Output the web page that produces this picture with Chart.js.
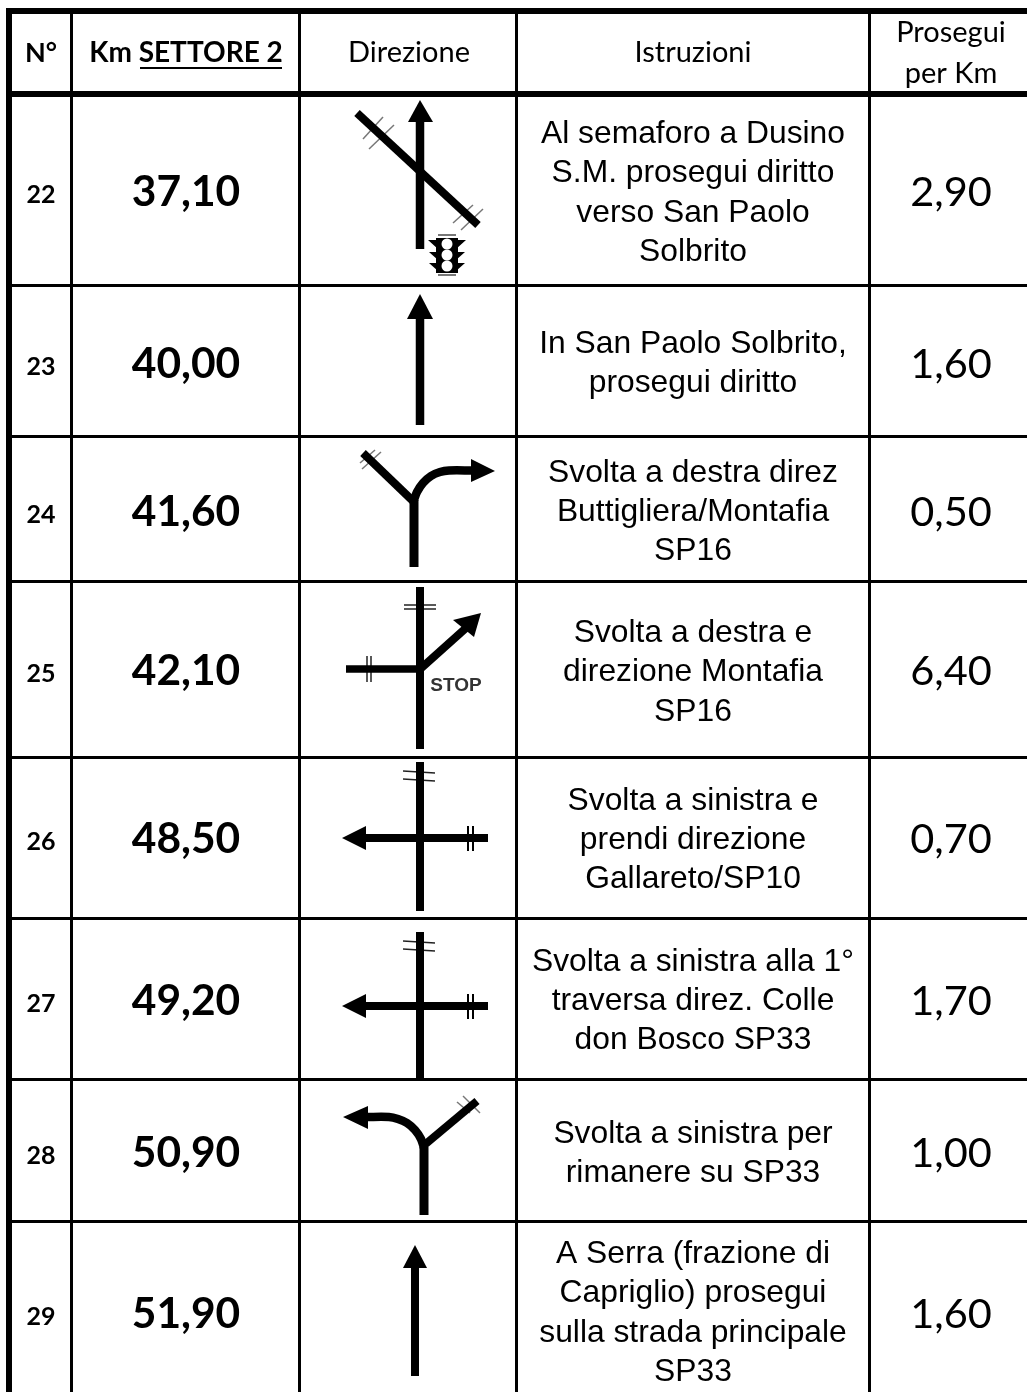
<!DOCTYPE html>
<html>
<head>
<meta charset="utf-8">
<title>Settore 2</title>
<script src="https://cdn.jsdelivr.net/npm/chart.js@4"></script>
<style>
  html, body { margin: 0; padding: 0; background: #fff; }
  canvas { display: block; }
</style>
</head>
<body>
<canvas id="myChart" width="1027" height="1392"></canvas>
<script>
// table content
var headers = ["N°", "Km SETTORE 2", "Direzione", "Istruzioni"];
var lastHeader = ["Prosegui", "per Km"];
var numbers = ["22", "23", "24", "25", "26", "27", "28", "29"];
var kmValues = ["37,10", "40,00", "41,60", "42,10", "48,50", "49,20", "50,90", "51,90"];
var nextKm = ["2,90", "1,60", "0,50", "6,40", "0,70", "1,70", "1,00", "1,60"];
var instructions = [
    ["Al semaforo a Dusino", "S.M. prosegui diritto", "verso San Paolo", "Solbrito"],
    ["In San Paolo Solbrito,", "prosegui diritto"],
    ["Svolta a destra direz", "Buttigliera/Montafia", "SP16"],
    ["Svolta a destra e", "direzione Montafia", "SP16"],
    ["Svolta a sinistra e", "prendi direzione", "Gallareto/SP10"],
    ["Svolta a sinistra alla 1°", "traversa direz. Colle", "don Bosco SP33"],
    ["Svolta a sinistra per", "rimanere su SP33"],
    ["A Serra (frazione di", "Capriglio) prosegui", "sulla strada principale", "SP33"]
];

// table layout, in picture pixels
var colRules = [[9, 6], [71.5, 3], [299.5, 3], [516.5, 3], [869.5, 3]];
var rowRules = [[11, 6], [94, 6], [285.5, 3], [436.5, 3], [581.5, 3], [757.5, 3], [918.5, 3], [1079.5, 3], [1221.5, 3]];
var colCenters = [41, 186, 409, 693, 951];
var rowMiddles = [191, 363, 511, 670, 838, 1000, 1152, 1313];
var lineMiddles = [
    [132, 171, 211, 250],
    [342, 381],
    [471, 510, 549],
    [631, 670, 710],
    [799, 838, 877],
    [960, 999, 1038],
    [1132, 1171],
    [1252, 1291, 1331, 1370]
];

// road signs: [width, colour, tension, points]
var K = '#000', G = '#777';
var signLines = [
    // 22
    [8.5, K, 0, [[420, 118], [420, 249]]],
    [8, K, 0, [[357, 113], [478, 225]]],
    [1.5, G, 0, [[363, 139], [383, 117]]],
    [1.5, G, 0, [[369, 149], [394, 125]]],
    [1.5, G, 0, [[453, 223], [473, 205]]],
    [1.5, G, 0, [[461, 230], [483, 209]]],
    [22, K, 0, [[447, 238], [447, 273]]],
    [2, G, 0, [[438, 235], [456, 235]]],
    [2, G, 0, [[438, 275], [456, 275]]],
    // 23
    [8.5, K, 0, [[420, 317], [420, 425]]],
    // 24
    [9, K, 0, [[414, 567], [414, 500]]],
    [8, K, 0, [[414, 502], [363, 453]]],
    [8.5, K, 0.3, [[414, 500], [417, 492], [423, 483], [431, 476], [440, 472], [449, 470.5], [472, 470.5]]],
    [1.5, G, 0, [[360, 463], [375, 450]]],
    [1.5, G, 0, [[362, 469], [381, 452]]],
    // 25
    [8, K, 0, [[420, 587], [420, 749]]],
    [7.5, K, 0, [[346, 669], [420, 669]]],
    [8, K, 0, [[418, 671], [466, 628]]],
    [1.5, '#222', 0, [[367, 656], [367, 682]]],
    [1.5, '#222', 0, [[371, 656], [371, 682]]],
    [1.5, '#222', 0, [[404, 605], [436, 605]]],
    [1.5, '#222', 0, [[404, 609], [436, 609]]],
    // 26
    [8, K, 0, [[420, 762], [420, 911]]],
    [8, K, 0, [[364, 838], [488, 838]]],
    [2, K, 0, [[468, 826], [468, 851]]],
    [2, K, 0, [[473, 826], [473, 851]]],
    [1.5, '#222', 0, [[403, 771], [435, 773]]],
    [1.5, '#222', 0, [[403, 779], [435, 781]]],
    // 27
    [8, K, 0, [[420, 932], [420, 1078]]],
    [8, K, 0, [[364, 1006], [488, 1006]]],
    [2, K, 0, [[468, 994], [468, 1019]]],
    [2, K, 0, [[473, 994], [473, 1019]]],
    [1.5, '#222', 0, [[403, 941], [435, 943]]],
    [1.5, '#222', 0, [[403, 949], [435, 951]]],
    // 28
    [9, K, 0, [[424, 1215], [424, 1147]]],
    [8, K, 0, [[422, 1147], [477, 1101]]],
    [8.5, K, 0.3, [[424, 1148], [421, 1139], [415, 1130], [407, 1123], [398, 1119], [389, 1117], [366, 1117]]],
    [1.5, G, 0, [[457, 1102], [470, 1113]]],
    [1.5, G, 0, [[463, 1096], [480, 1113]]],
    // 29
    [8, K, 0, [[415, 1266], [415, 1376]]]
];
var signHeads = [
    [[420, 100], [408, 122], [433, 122]],
    [[420, 294], [407, 319], [433, 319]],
    [[495, 471], [471, 459], [471, 482]],
    [[481, 613], [453, 620], [474, 637]],
    [[342, 838], [366, 826], [366, 850]],
    [[342, 1006], [366, 994], [366, 1018]],
    [[343, 1117], [368, 1106], [368, 1129]],
    [[415, 1245], [403, 1268], [427, 1268]],
    // traffic light visors
    [[428, 240], [438, 240], [438, 249]],
    [[429, 252], [438, 252], [438, 260]],
    [[429, 263], [438, 263], [438, 271]],
    [[466, 240], [456, 240], [456, 249]],
    [[465, 252], [456, 252], [456, 260]],
    [[465, 263], [456, 263], [456, 271]]
];
var lightPoints = [[447, 244], [447, 255], [447, 266]];
var underlinePoints = [[140, 68], [282, 68]];

function toXY(pts) {
    return pts.map(function (p) { return { x: p[0], y: p[1] }; });
}

function lineDataset(pts, width, color, tension) {
    return {
        data: toXY(pts),
        showLine: true,
        pointRadius: 0,
        borderColor: color,
        borderWidth: width,
        borderCapStyle: 'butt',
        tension: tension || 0
    };
}

// the first dataset ends up on top, so the lights go first
var datasets = [{
    data: toXY(lightPoints),
    pointRadius: 5.5,
    pointBackgroundColor: '#fff',
    pointBorderWidth: 0
}];
colRules.forEach(function (r) {
    datasets.push(lineDataset([[r[0], 8], [r[0], 1392]], r[1], K));
});
rowRules.forEach(function (r) {
    datasets.push(lineDataset([[6, r[0]], [1027, r[0]]], r[1], K));
});
datasets.push(lineDataset(underlinePoints, 2, K));
signLines.forEach(function (s) {
    datasets.push(lineDataset(s[3], s[0], s[1], s[2]));
});
signHeads.forEach(function (h) {
    datasets.push({
        data: toXY(h),
        showLine: true,
        pointRadius: 0,
        borderWidth: 0,
        backgroundColor: K,
        fill: 'shape'
    });
});

// cell text goes through the same scales as the marks
var tableText = {
    id: 'tableText',
    afterDatasetsDraw: function (chart) {
        var c = chart.ctx;
        var sx = chart.scales.x, sy = chart.scales.y;
        function put(str, cx, y, font, color) {
            c.font = font;
            c.fillStyle = color || '#000';
            c.fillText(str, sx.getPixelForValue(cx), sy.getPixelForValue(y));
        }
        c.save();
        c.textAlign = 'center';
        c.textBaseline = 'alphabetic';
        var calibri = 'Lato, sans-serif';
        var arial = '"Liberation Sans", Arial, sans-serif';

        put(headers[0], colCenters[0], 62, 'bold 27px ' + calibri);
        put(headers[1], colCenters[1], 62, 'bold 28px ' + calibri);
        put(headers[2], colCenters[2], 62, '29px ' + calibri);
        put(headers[3], colCenters[3], 62, '29px ' + calibri);
        put(lastHeader[0], colCenters[4], 42, '29px ' + calibri);
        put(lastHeader[1], colCenters[4], 83, '29px ' + calibri);

        numbers.forEach(function (n, i) {
            var mid = rowMiddles[i];
            put(n, colCenters[0], mid + 12, 'bold 25px ' + calibri);
            put(kmValues[i], colCenters[1], mid + 15, 'bold 42.5px ' + calibri);
            put(nextKm[i], colCenters[4], mid + 15, '41.5px ' + calibri);
            instructions[i].forEach(function (txt, j) {
                put(txt, colCenters[3], lineMiddles[i][j] + 11, '31.8px ' + arial);
            });
        });
        put('STOP', 456, 691, 'bold 19px ' + arial, '#333');
        c.restore();
    }
};

var ctx = document.getElementById("myChart");
var myChart = new Chart(ctx, {
    type: 'scatter',
    data: { datasets: datasets },
    plugins: [tableText],
    options: {
        responsive: false,
        animation: false,
        layout: { padding: 0, autoPadding: false },
        plugins: {
            legend: { display: false },
            tooltip: { enabled: false }
        },
        scales: {
            x: { type: 'linear', min: 0, max: 1027, display: false },
            y: { type: 'linear', min: 0, max: 1392, reverse: true, display: false }
        }
    }
});
</script>
</body>
</html>
